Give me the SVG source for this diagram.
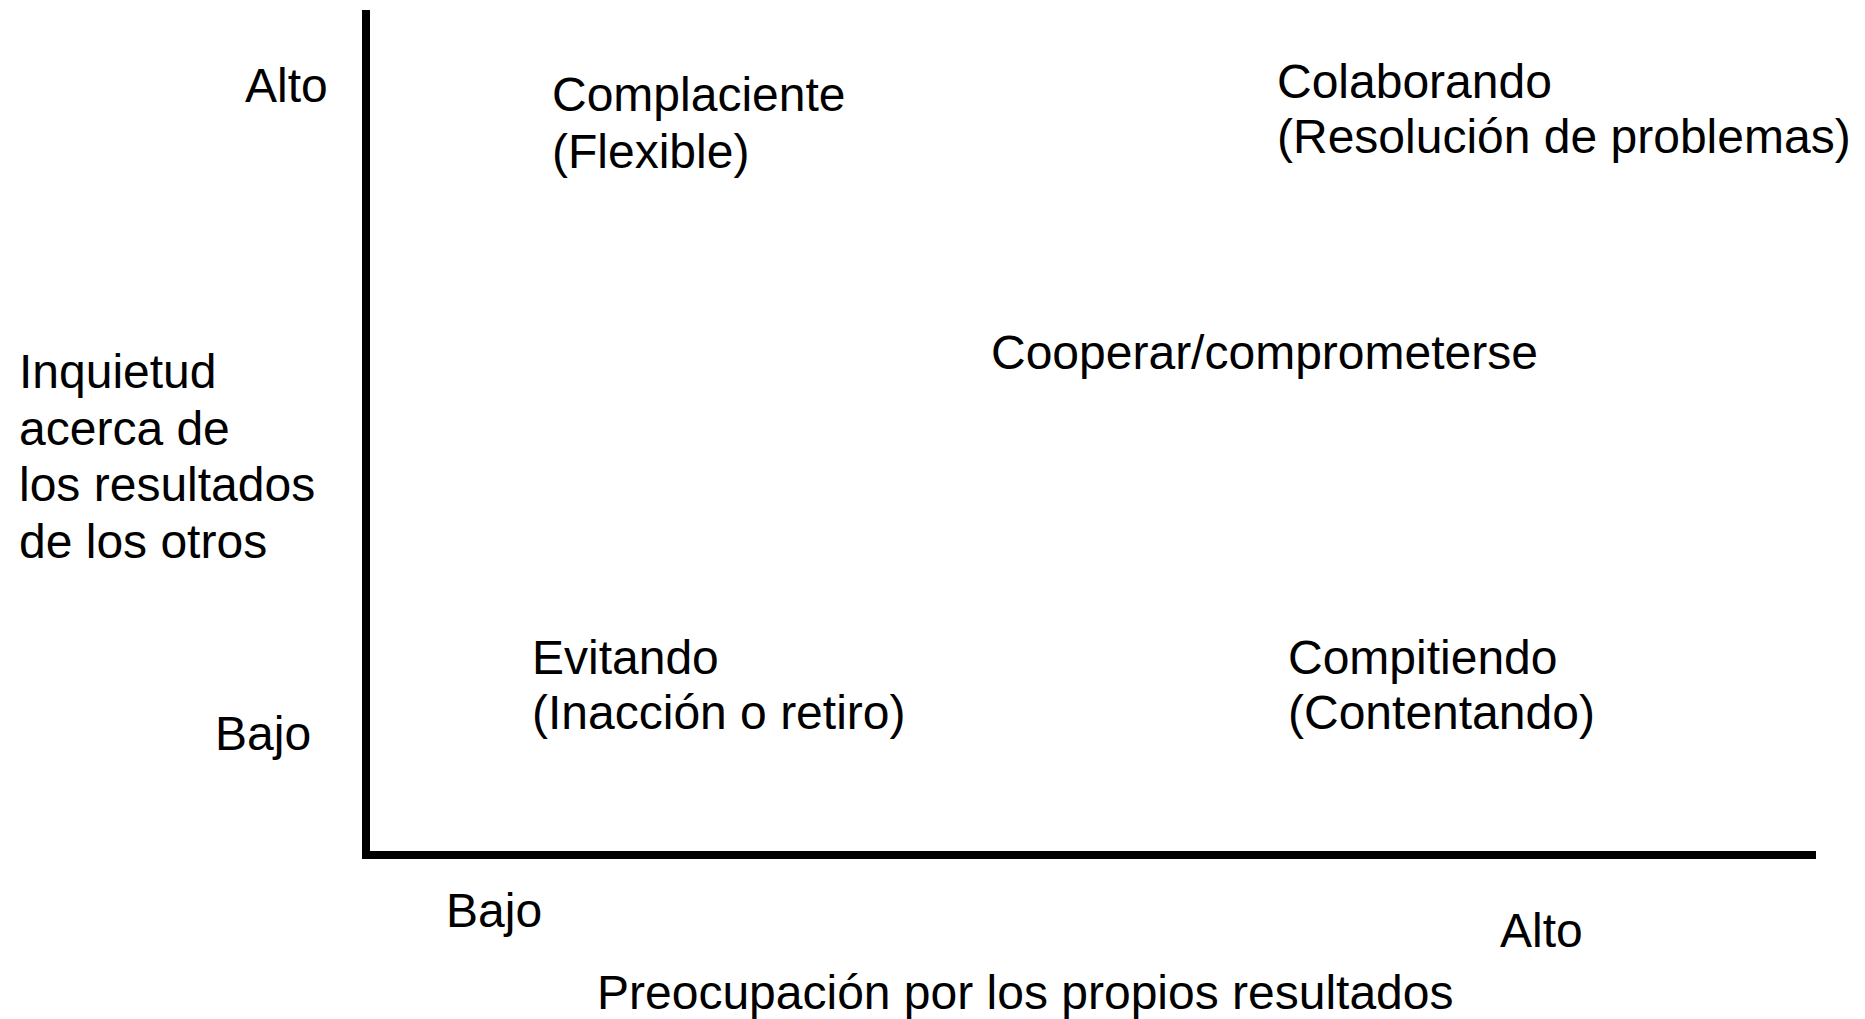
<svg xmlns="http://www.w3.org/2000/svg" width="1865" height="1019" viewBox="0 0 1865 1019">
<style>
.t{font-family:"Liberation Sans",Arial,sans-serif;font-size:48px;fill:#000}
.ax{stroke:#000;stroke-width:8;fill:none}
</style>
<rect width="1865" height="1019" fill="#fff"/>
<g id="connectors">
<path class="ax" d="M366 10 V858 M362 855 H1816"/>
</g>
<g id="y-alto"><text class="t" x="245" y="102">Alto</text></g>
<g id="y-bajo"><text class="t" x="215" y="750">Bajo</text></g>
<g id="y-title"><text class="t" x="19" y="388">Inquietud<tspan x="19" dy="56.5">acerca de</tspan><tspan x="19" dy="56.5">los resultados</tspan><tspan x="19" dy="56.5">de los otros</tspan></text></g>
<g id="complaciente"><text class="t" x="552" y="111">Complaciente<tspan x="552" dy="57">(Flexible)</tspan></text></g>
<g id="colaborando"><text class="t" x="1277" y="98">Colaborando<tspan x="1277" dy="55">(Resolución de problemas)</tspan></text></g>
<g id="cooperar"><text class="t" x="991" y="369">Cooperar/comprometerse</text></g>
<g id="evitando"><text class="t" x="532" y="674">Evitando<tspan x="532" dy="55">(Inacción o retiro)</tspan></text></g>
<g id="compitiendo"><text class="t" x="1288" y="674">Compitiendo<tspan x="1288" dy="55">(Contentando)</tspan></text></g>
<g id="x-bajo"><text class="t" x="446" y="927">Bajo</text></g>
<g id="x-alto"><text class="t" x="1500" y="947">Alto</text></g>
<g id="x-title"><text class="t" x="597" y="1009">Preocupación por los propios resultados</text></g>
</svg>
